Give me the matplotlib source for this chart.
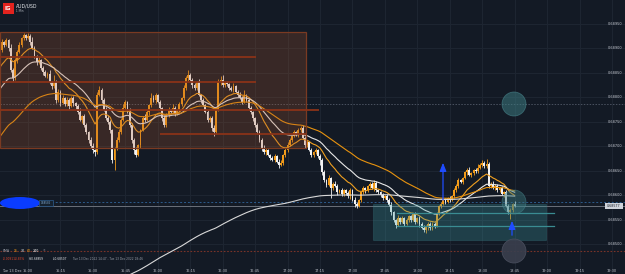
import numpy as np
import matplotlib
matplotlib.use("Agg")
import matplotlib.pyplot as plt
from matplotlib.patches import Rectangle, Circle, Ellipse

# ---------------- data ----------------
start_minute = -13          # 14:47 relative to 15:00
first_open_pts = 68905
close_pts = [
    68897, 68913, 68907, 68917, 68901,
    68856, 68839, 68876, 68893, 68907,
    68921, 68927, 68921, 68925, 68913,
    68901, 68884, 68872, 68876, 68860,
    68852, 68844, 68848, 68831, 68823,
    68831, 68794, 68811, 68788, 68799,
    68786, 68794, 68782, 68799, 68788,
    68782, 68770, 68754, 68762, 68743,
    68729, 68713, 68700, 68692, 68688,
    68805, 68815, 68794, 68774, 68758,
    68749, 68733, 68672, 68696, 68713,
    68729, 68754, 68778, 68790, 68774,
    68743, 68713, 68692, 68682, 68702,
    68733, 68758, 68754, 68770, 68784,
    68799, 68794, 68805, 68790, 68778,
    68758, 68743, 68764, 68774, 68770,
    68778, 68766, 68774, 68786, 68799,
    68819, 68839, 68846, 68835, 68825,
    68819, 68831, 68805, 68794, 68784,
    68770, 68754, 68758, 68737, 68729,
    68774, 68831, 68835, 68825, 68829,
    68827, 68819, 68815, 68823, 68811,
    68805, 68799, 68790, 68803, 68794,
    68778, 68770, 68758, 68743, 68729,
    68713, 68696, 68688, 68692, 68682,
    68676, 68672, 68680, 68668, 68662,
    68666, 68682, 68692, 68702, 68713,
    68721, 68729, 68723, 68733, 68737,
    68717, 68702, 68709, 68692, 68682,
    68688, 68692, 68680, 68672, 68647,
    68631, 68621, 68635, 68614, 68623,
    68619, 68606, 68610, 68602, 68610,
    68604, 68598, 68610, 68590, 68582,
    68578, 68590, 68606, 68614, 68610,
    68619, 68623, 68614, 68625, 68610,
    68606, 68600, 68594, 68598, 68590,
    68580, 68565, 68549, 68539, 68553,
    68545, 68553, 68541, 68549, 68557,
    68549, 68561, 68545, 68553, 68541,
    68533, 68529, 68537, 68541, 68533,
    68541, 68537, 68561, 68578, 68582,
    68590, 68586, 68594, 68590, 68598,
    68610, 68619, 68631, 68627, 68635,
    68647, 68651, 68641, 68645, 68651,
    68649, 68655, 68662, 68666, 68659,
    68664, 68619, 68623, 68614, 68619,
    68610, 68614, 68602, 68606, 68578,
    68565, 68569, 68582, 68578,
]
wick_up_pts = [
    4, 6, 3, 5, 2,  8, 3, 5, 4, 6,  3, 5, 2, 6, 4,  10, 4, 3, 6, 2,
    5, 3, 4, 7, 3,  14, 4, 6, 3, 5,  2, 6, 5, 3, 4,  3, 5, 8, 2, 4,
    4, 3, 5, 6, 2,  6, 8, 5, 4, 6,  5, 4, 3, 2, 6,  6, 3, 9, 4, 3,
    4, 5, 3, 6, 2,  3, 4, 8, 5, 3,  10, 6, 3, 2, 5,  3, 5, 4, 6, 3,
    8, 5, 3, 4, 2,  6, 5, 10, 3, 4,  4, 3, 6, 2, 5,  3, 5, 4, 3, 6,
    2, 6, 8, 10, 3,  5, 3, 4, 6, 2,  3, 6, 4, 12, 3,  6, 4, 3, 2, 5,
    4, 3, 6, 5, 2,  3, 5, 4, 3, 6,  5, 2, 4, 6, 3,  2, 4, 3, 5, 4,
    6, 3, 4, 2, 5,  3, 5, 2, 4, 3,  4, 2, 6, 3, 4,  5, 3, 2, 4, 3,
    3, 4, 5, 2, 6,  4, 3, 2, 5, 3,  2, 4, 3, 6, 4,  3, 2, 5, 3, 4,
    4, 5, 3, 2, 6,  3, 4, 2, 5, 3,  2, 3, 4, 3, 5,  3, 5, 2, 4, 3,
    4, 3, 5, 2, 4,  3, 4, 3, 5, 2,  5, 3, 4, 2, 3,  3, 4, 6, 3, 2,
    4, 8, 3, 5, 4,  10, 4, 3, 6, 3,  4, 3, 5, 2, 4,  3, 4, 2, 5,
]
wick_dn_pts = [
    3, 5, 4, 2, 6,  4, 6, 3, 5, 2,  5, 3, 4, 2, 6,  3, 4, 6, 3, 5,
    6, 2, 4, 3, 5,  3, 5, 4, 6, 2,  4, 3, 5, 2, 6,  5, 4, 2, 6, 3,
    3, 6, 4, 5, 8,  4, 3, 5, 2, 4,  3, 5, 6, 20, 4,  5, 3, 2, 4, 6,
    4, 6, 8, 5, 3,  5, 2, 4, 3, 6,  3, 4, 5, 2, 4,  6, 3, 4, 5, 2,
    3, 5, 2, 4, 3,  4, 3, 5, 2, 6,  5, 4, 3, 6, 2,  3, 5, 4, 6, 8,
    4, 2, 5, 3, 4,  3, 4, 2, 5, 3,  5, 3, 4, 2, 4,  3, 5, 6, 4, 3,
    4, 6, 3, 5, 2,  5, 3, 4, 2, 6,  3, 4, 5, 3, 2,  4, 3, 2, 5, 3,
    3, 5, 4, 2, 4,  4, 3, 5, 10, 6,  5, 4, 3, 20, 4,  3, 5, 2, 4, 3,
    4, 3, 5, 2, 6,  5, 2, 4, 3, 5,  3, 4, 2, 5, 3,  4, 3, 5, 2, 4,
    3, 5, 4, 6, 3,  4, 3, 5, 2, 4,  5, 2, 4, 3, 6,  3, 4, 6, 8, 5,
    4, 5, 3, 2, 4,  3, 4, 2, 5, 3,  4, 3, 5, 2, 4,  3, 5, 2, 4, 3,
    4, 3, 2, 5, 3,  3, 4, 5, 2, 4,  4, 3, 2, 5, 3,  4, 14, 3, 3,
]
ema_spans = [15, 30, 60, 240]
ema_seed_pts = [68856, 68811, 68713, 68195]
ema_colors = ["#f0a020", "#e8e8e8", "#e8930f", "#d9d9d9"]

price_ticks = [0.68500, 0.68550, 0.68600, 0.68650, 0.68700,
               0.68750, 0.68800, 0.68850, 0.68900, 0.68950]
time_tick_minutes = list(range(0, 271, 15))
time_tick_labels = ["15:00", "15:15", "15:30", "15:45", "16:00", "16:15",
                    "16:30", "16:45", "17:00", "17:15", "17:30", "17:45",
                    "18:00", "18:15", "18:30", "18:45", "19:00", "19:15", "19:30"]

# drawing levels (price, minute extents)
zone_box = dict(x0=-13, x1=128.5, y0=0.686964, y1=0.689337)
zone_lines = [(-13, 105.4, 0.688825), (-12, 105.4, 0.688314),
              (-13, 134.5, 0.687741), (61, 128.5, 0.687250)]
demand_box = dict(x0=159.5, x1=239.5, y0=0.685082, y1=0.685818)
demand_lines = [(170.6, 243.2, 0.685634), (170.6, 243.2, 0.685368)]
prev_close_level = 0.687864
red_level = 0.684847
order_level = 0.685859
last_price = 0.68577

# ---------------- derived ----------------
close = np.array(close_pts) / 1e5
opens = np.concatenate([[first_open_pts / 1e5], close[:-1]])
highs = np.maximum(opens, close) + np.array(wick_up_pts) / 1e5
lows = np.minimum(opens, close) - np.array(wick_dn_pts) / 1e5
minutes = np.arange(start_minute, start_minute + len(close))


def ema(values, span, seed):
    a = 2.0 / (span + 1)
    e = seed
    out = []
    for v in values:
        e = e + a * (v - e)
        out.append(e)
    return np.array(out)


BG = "#131a25"
GRID = "#1e2632"
ORANGE = "#f39c1a"
WHITE = "#f2f2f2"

W, H = 625, 274
fig = plt.figure(figsize=(W / 100, H / 100), dpi=100, facecolor=BG)
ax = fig.add_axes([0, 0, 1, 1], facecolor=BG)
px_per_min = (612 - 28) / 270.0
xmin = -28 / px_per_min
xmax = (W - 28) / px_per_min
pp = 0.0045 / 220.0
ymin = 0.685 - 30 * pp
ymax = 0.685 + 244 * pp
ax.set_xlim(xmin, xmax)
ax.set_ylim(ymin, ymax)
ax.axis("off")

# grid
for m in time_tick_minutes:
    ax.axvline(m, color=GRID, lw=0.7, zorder=0)
for p in price_ticks:
    ax.axhline(p, color=GRID, lw=0.7, zorder=0)

# candles
up = close >= opens
cols = np.where(up, ORANGE, WHITE)
ax.vlines(minutes, lows, highs, colors=cols, lw=0.6, zorder=3)
body_h = np.abs(close - opens)
body_h = np.where(body_h < 0.000008, 0.000008, body_h)
ax.bar(minutes, body_h, bottom=np.minimum(opens, close), width=0.86,
       color=cols, linewidth=0, zorder=4)

# EMAs
for span, seed, c in zip(ema_spans, ema_seed_pts, ema_colors):
    ax.plot(minutes, ema(close, span, seed / 1e5), color=c, lw=0.8, zorder=5)

# zone box (brown)
ax.add_patch(Rectangle((zone_box["x0"], zone_box["y0"]), zone_box["x1"] - zone_box["x0"],
                       zone_box["y1"] - zone_box["y0"], facecolor="#a8552c", alpha=0.25,
                       edgecolor="none", zorder=6))
ax.add_patch(Rectangle((zone_box["x0"], zone_box["y0"]), zone_box["x1"] - zone_box["x0"],
                       zone_box["y1"] - zone_box["y0"], facecolor="none",
                       edgecolor="#7a3a22", lw=0.9, zorder=6))
for x0, x1, yv in zone_lines:
    ax.plot([x0, x1], [yv, yv], color="#8a3318", lw=1.3, zorder=6, solid_capstyle="butt")

# demand box (teal)
ax.add_patch(Rectangle((demand_box["x0"], demand_box["y0"]), demand_box["x1"] - demand_box["x0"],
                       demand_box["y1"] - demand_box["y0"], facecolor="#3fa0a8", alpha=0.28,
                       edgecolor="#3a8088", lw=0.8, zorder=6))
for x0, x1, yv in demand_lines:
    ax.plot([x0, x1], [yv, yv], color="#3a8c92", lw=0.9, zorder=6)

# horizontal levels
ax.axhline(prev_close_level, color="#4a5260", lw=0.7, ls=(0, (1.5, 1.5)), zorder=2)
ax.axhline(red_level, color="#7a3328", lw=0.8, ls=(0, (1.5, 1.5)), zorder=2)
ax.plot([0, xmax], [order_level, order_level], color="#2c5b8c", lw=0.7,
        ls=(0, (2, 2)), zorder=2)
ax.axhline(last_price, color="#6a707a", lw=0.7, zorder=2)

# ---------------- overlay in pixel coords ----------------
ov = fig.add_axes([0, 0, 1, 1], facecolor="none")
ov.set_xlim(0, W)
ov.set_ylim(H, 0)
ov.axis("off")

# circles
ov.add_patch(Circle((514, 104), 12, facecolor="#3c7a80", alpha=0.55, edgecolor="#4d8f95", lw=0.6, zorder=7))
ov.add_patch(Circle((514, 202), 12, facecolor="#3c7a80", alpha=0.45, edgecolor="#4d8f95", lw=0.6, zorder=7))
ov.add_patch(Circle((514, 251), 12, facecolor="#3a3f4e", alpha=0.9, edgecolor="#4a4f5e", lw=0.6, zorder=7))

# arrows
for (xa, yb, yt) in [(443, 203, 160), (512, 238, 218)]:
    ov.annotate("", xy=(xa, yt), xytext=(xa, yb),
                arrowprops=dict(arrowstyle="-|>,head_length=0.5,head_width=0.2",
                                color="#1f4cff", lw=0.9), zorder=8)

# blue order ellipse + label
ov.add_patch(Ellipse((20, 203), 40, 12, facecolor="#0a3cff", edgecolor="none", zorder=8))
ov.add_patch(Rectangle((39, 200), 14, 6, facecolor="#16222f", edgecolor="#2c5b8c", lw=0.5, zorder=8))
ov.text(46, 203, "0.68586", fontsize=1.8, color="#7fa8d0", ha="center", va="center", zorder=9)

# price labels
for p in price_ticks:
    yv = 244 - (p - 0.685) / pp
    ov.text(622, yv, f"{p:.5f}", fontsize=2.5, color="#c3c7cf", ha="right", va="center", zorder=9)
ypx = 244 - (last_price - 0.685) / pp
ov.add_patch(Rectangle((605, ypx - 3), 18, 6, facecolor="#cfd3da", edgecolor="none", zorder=9))
ov.text(614, ypx, f"{last_price:.5f}", fontsize=2.3, color="#1a1f28", ha="center", va="center", zorder=10)

# time labels
for m, lab in zip(time_tick_minutes, time_tick_labels):
    ov.text(28 + m * px_per_min, 270.5, lab, fontsize=2.5, color="#c3c7cf", ha="center", va="center", zorder=9)
ov.text(2, 270.5, "Tue 13 Dec", fontsize=2.5, color="#c3c7cf", ha="left", va="center", zorder=9)

# header
ov.add_patch(Rectangle((3, 3), 10.5, 11, facecolor="#e3231e", edgecolor="none", zorder=9))
ov.text(8.2, 8.7, "IG", fontsize=4, color="white", fontweight="bold", ha="center", va="center", zorder=10)
ov.text(16, 6, "AUD/USD", fontsize=3.3, color="#e8eaee", ha="left", va="center", zorder=9)
ov.text(16, 11.5, "1 Min", fontsize=2, color="#b0b4bc", ha="left", va="center", zorder=9)

# legend bottom-left
legend_items = [("EMA", 3, "#9aa0aa"), ("15", 14, ORANGE), ("30", 20.5, WHITE),
                ("60", 26.5, ORANGE), ("240", 32.5, WHITE), ("\u00d7", 43, "#9aa0aa")]
for t, xx, c in legend_items:
    ov.text(xx, 250.5, t, fontsize=2.3, color=c, ha="left", va="center", zorder=9)
stats_items = [("-0.00911", 3, "#e0452c"), ("-0.83%", 15, "#e0452c"),
               ("H:0.68859", 29, "#e8eaee"), ("L:0.68507", 53, "#e8eaee"),
               ("Tue 13 Dec 2022 14:47 - Tue 13 Dec 2022 18:46", 73, "#9aa0aa")]
for t, xx, c in stats_items:
    ov.text(xx, 259, t, fontsize=2.1, color=c, ha="left", va="center", zorder=9)

fig.savefig("out.png", dpi=100, facecolor=BG)
